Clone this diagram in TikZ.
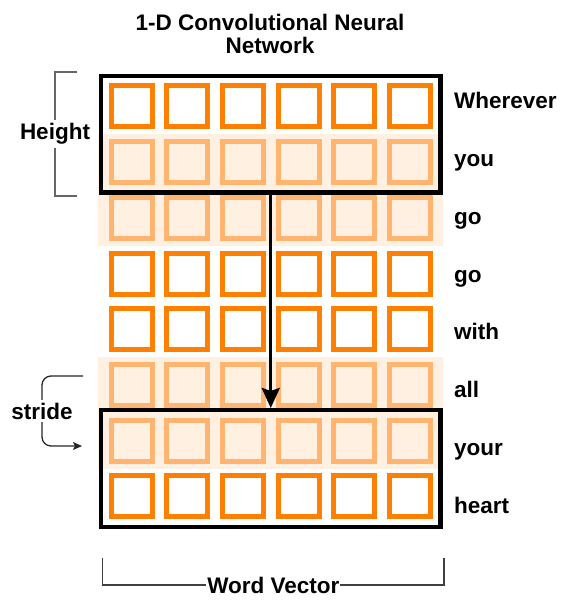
\documentclass[tikz,border=0pt]{standalone}
\usepackage{fontspec}
\setmainfont{Liberation Sans}
\usepackage{tikz}
\usetikzlibrary{arrows.meta, fit}
\definecolor{cellorange}{HTML}{FF8000}
\definecolor{cellpale}{HTML}{FFB570}
\definecolor{cellpeach}{HTML}{FFF0E1}
\tikzset{
    labelfont/.style={font=\fontsize{22.5}{23.5}\selectfont\bfseries},
    cellstrong/.style={rectangle, draw=cellorange, fill=white, line width=5pt, minimum size=41pt, inner sep=0pt},
    cellfaint/.style={cellstrong, draw=cellpale, fill=cellpeach},
    band/.style={fill=cellpeach},
    window/.style={rectangle, draw=black, line width=4.5pt, inner sep=7.5pt},
    wordlabel/.style={labelfont, anchor=base west, inner sep=0pt},
    bracket/.style={draw=black!60, line width=1.3pt},
    arrow/.style={-{Stealth[length=20pt, width=18pt, inset=3pt]}, line width=3pt, draw=black},
    stridearrow/.style={-{Stealth[length=9pt, width=8pt, inset=2pt]}, line width=1.3pt, draw=black!85, rounded corners=9pt}
}

\begin{document}
\begin{tikzpicture}[x=1pt, y=-1pt]
        \useasboundingbox (0,0) rectangle (560,601);
        \node[labelfont, align=center] (title) at (270,34) {1-D Convolutional Neural\\Network};
        % shaded rows behind the faded cells
        \foreach \r in {2,3,6,7}
            \fill[band] (98,{106.5+55.7*(\r-1)-27.85}) rectangle (443,{106.5+55.7*(\r-1)+27.85});
        % 8 words x 6 components
        \foreach \r/\kind in {1/cellstrong, 2/cellfaint, 3/cellfaint, 4/cellstrong, 5/cellstrong, 6/cellfaint, 7/cellfaint, 8/cellstrong}
            \foreach \c in {1,...,6}
                \node[\kind] (c-\r-\c) at ({131.5+55.7*(\c-1)},{106.5+55.7*(\r-1)}) {};
        \foreach \w [count=\i] in {Wherever, you, go, go, with, all, your, heart}
            \node[wordlabel] (w\i) at (454,{108.5+57.86*(\i-1)}) {\w};
        % kernel window, first and last position
        \node[window, fit=(c-1-1)(c-2-6)] (kfirst) {};
        \node[window, fit=(c-7-1)(c-8-6)] (klast) {};
        \draw[arrow] (kfirst.south) -- (klast.north);
        % height bracket
        \coordinate (htop) at (77,72);
        \coordinate (hbot) at (77,196);
        \draw[bracket] (htop) -- ++(-22,0) |- node[pos=0.25, labelfont, fill=white, inner sep=3pt] {Height} (hbot);
        % stride
        \coordinate (sfrom) at (83,376);
        \coordinate (sto) at (82,446);
        \draw[stridearrow] (sfrom) -- ++(-41,0) |- node[pos=0.25, labelfont, fill=white, inner sep=3pt, rounded corners=0pt] {stride} (sto);
        % word vector bracket
        \coordinate (wvleft) at (102.7,558);
        \coordinate (wvright) at (444,558);
        \draw[bracket, draw=black!75] (wvleft) -- ++(0,27) -| node[pos=0.25, labelfont, fill=white, inner sep=1pt] {Word Vector} (wvright);
    \end{tikzpicture}
\end{document}
